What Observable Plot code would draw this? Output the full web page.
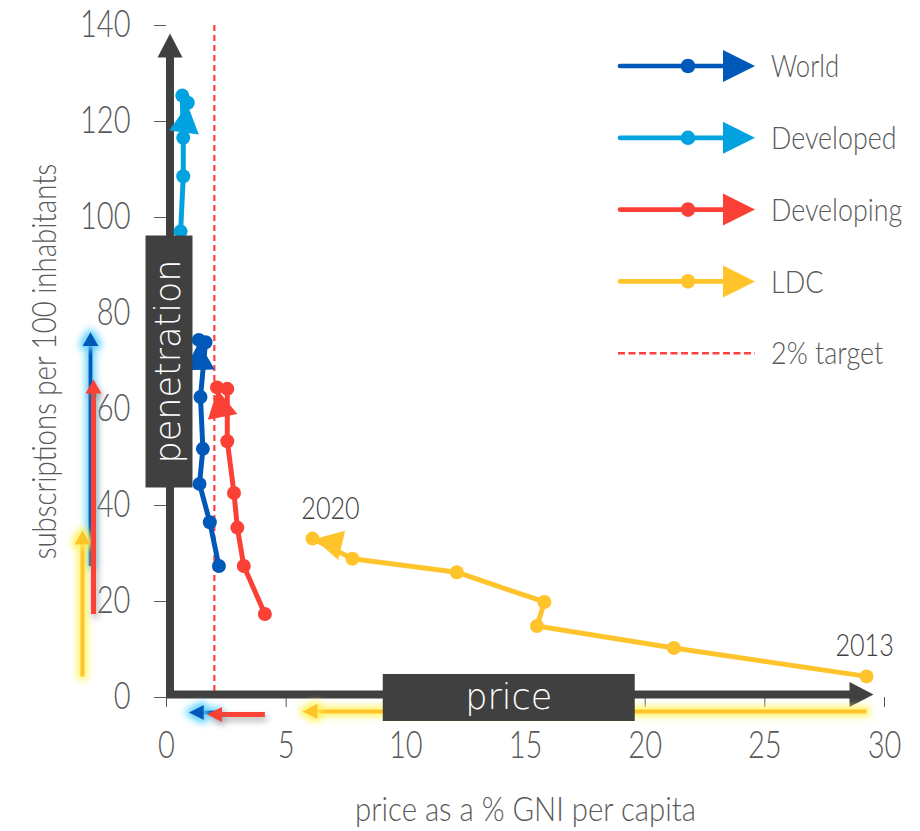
<!DOCTYPE html>
<html>
<head>
<meta charset="utf-8">
<script src="https://cdn.jsdelivr.net/npm/d3@7"></script>
<script src="https://cdn.jsdelivr.net/npm/@observablehq/plot@0.6"></script>
<style>
  body { margin: 0; background: #fff; }
  #wrap { position: relative; width: 920px; height: 831px; overflow: hidden; }
  #wrap > svg { position: absolute; left: 0; top: 0; }
</style>
</head>
<body>
<div id="wrap"></div>
<script>
// ---------------- data ----------------
const years = [2013, 2014, 2015, 2016, 2017, 2019, 2020];
const worldPrice = [2.19, 1.81, 1.38, 1.52, 1.42, 1.63, 1.35];
const worldPen = [27.4, 36.5, 44.5, 51.8, 62.6, 74.0, 74.5];
const developedPrice = [0.50, 0.55, 0.59, 0.70, 0.70, 0.66, 0.89];
const developedPen = [83.0, 90.0, 97.1, 108.6, 116.6, 125.4, 123.9];
const developingPrice = [4.11, 3.23, 2.96, 2.82, 2.54, 2.54, 2.11];
const developingPen = [17.4, 27.4, 35.4, 42.6, 53.4, 64.3, 64.6];
const ldcPrice = [29.25, 21.2, 15.48, 15.79, 12.13, 7.77, 6.10];
const ldcPen = [4.4, 10.3, 14.9, 19.9, 26.1, 28.9, 33.1];
const seriesNames = ["World", "Developed", "Developing", "LDC"];
const targetName = "2% target";
const targetPrice = 2;
const xTicks = [0, 5, 10, 15, 20, 25, 30];
const yTicks = [0, 20, 40, 60, 80, 100, 120, 140];
const xTitle = "price as a % GNI per capita";
const yTitle = "subscriptions per 100 inhabitants";
const boxLabels = ["penetration", "price"];

// ---------------- styles / layout ----------------
const colors = {World: "#0058b9", Developed: "#00a2e0", Developing: "#fb4136", LDC: "#ffc42c"};
const dark = "#404040", grey = "#595959", targetColor = "#ff4040";
const narrow = "'Liberation Sans', Arial, sans-serif"; // used for measuring, then condensed
const lightFace = "Lato, 'Open Sans', 'Liberation Sans', sans-serif";
const condenseFactor = 0.82;
const geo = "'DejaVu Sans', sans-serif";
const W = 920, H = 831;
const M = {left: 166, right: 36, top: 25, bottom: 134};
const xDomain = [0, 30], yDomain = [0, 140];
const kx = (W - M.left - M.right) / (xDomain[1] - xDomain[0]);
const ky = (H - M.top - M.bottom) / (yDomain[1] - yDomain[0]);

const seriesPrice = [worldPrice, developedPrice, developingPrice, ldcPrice];
const seriesPen = [worldPen, developedPen, developingPen, ldcPen];
const rows = seriesNames.map((name, s) =>
  years.map((year, i) => ({series: name, year, price: seriesPrice[s][i], pen: seriesPen[s][i]})));

// custom symbols
function headSymbol(len, wid, ext) { // tip pointing up, tip placed ext px beyond anchor
  return {draw(ctx) { ctx.moveTo(0, -ext); ctx.lineTo(wid / 2, len - ext); ctx.lineTo(-wid / 2, len - ext); ctx.closePath(); }};
}
function boxSymbol(w, h) { return {draw(ctx) { ctx.rect(-w / 2, -h / 2, w, h); }}; }
function screenAngle(a, b) {
  const dx = (b.price - a.price) * kx, dy = -(b.pen - a.pen) * ky;
  return Math.atan2(dx, -dy) * 180 / Math.PI;
}

const marks = [];
// target line
marks.push(Plot.ruleX([targetPrice], {stroke: targetColor, strokeWidth: 2.2, strokeDasharray: "6,4"}));

// thick axis arrows
marks.push(Plot.arrow([0], {x1: 0, y1: 0, x2: 0, y2: yDomain[1], stroke: dark, strokeWidth: 8, headLength: 0, insetEnd: 26, strokeLinecap: "butt", dx: 3.5}));
marks.push(Plot.dot([0], {x: 0, y: yDomain[1], symbol: headSymbol(24, 25, -8), r: 4, fill: dark, stroke: "none", dx: 3.5}));
marks.push(Plot.arrow([0], {x1: 0, y1: 0, x2: xDomain[1], y2: 0, stroke: dark, strokeWidth: 8, headLength: 0, insetEnd: 29, strokeLinecap: "butt", dy: -3}));
marks.push(Plot.dot([0], {x: xDomain[1], y: 0, symbol: headSymbol(24, 25, -11), r: 4, fill: dark, stroke: "none", rotate: 90, dy: -3}));

// series
const drawOrder = ["LDC", "Developing", "World", "Developed"];
for (const name of drawOrder) {
  const s = seriesNames.indexOf(name);
  const data = rows[s];
  const n = data.length;
  const last = data[n - 1];
  const head = [{...last, rot: screenAngle(data[n - 3], last)}];
  marks.push(Plot.line(data, {x: "price", y: "pen", stroke: colors[name], strokeWidth: 5}));
  marks.push(Plot.dot(data, {x: "price", y: "pen", r: 7, fill: colors[name], stroke: "none"}));
  marks.push(Plot.dot(head, {x: "price", y: "pen", rotate: "rot", symbol: headSymbol(28, 30, -2), r: 4, fill: colors[name], stroke: "none"}));
}

// projection arrows (left: penetration range, bottom: price range)
const proj = [
  {name: "World", left: -76, bottom: 15, glow: "glowBlue", w: 4},
  {name: "LDC", left: -84, bottom: 14, glow: "glowYellow", w: 4},
  {name: "Developing", left: -73, bottom: 17, glow: "shadowRed", w: 5}
];
for (const p of proj) {
  const data = rows[seriesNames.indexOf(p.name)];
  const d = [{first: data[0], last: data[data.length - 1]}];
  const c = colors[p.name];
  marks.push(Plot.arrow(d, {x1: 0, x2: 0, y1: d => d.first.pen, y2: d => d.last.pen, dx: p.left, stroke: c, strokeWidth: p.w, headLength: 0, insetEnd: 2, strokeLinecap: "butt", ariaDescription: p.glow}));
  marks.push(Plot.dot(d, {x: 0, y: d => d.last.pen, dx: p.left, symbol: headSymbol(14, 16, 8), r: 3, fill: c, stroke: "none", ariaDescription: p.glow}));
  marks.push(Plot.arrow(d, {y1: 0, y2: 0, x1: d => d.first.price, x2: d => d.last.price, dy: p.bottom, stroke: c, strokeWidth: p.w, headLength: 0, insetEnd: 2, strokeLinecap: "butt", ariaDescription: p.glow}));
  marks.push(Plot.dot(d, {y: 0, x: d => d.last.price, dy: p.bottom, rotate: -90, symbol: headSymbol(15, 15, 10), r: 3, fill: c, stroke: "none", ariaDescription: p.glow}));
}

// annotation boxes
const annotations = [
  {label: boxLabels[0], x: 0, y: 70, rotate: -90, dx: 2.5},
  {label: boxLabels[1], x: 14.3, y: 0, rotate: 0, dx: 0}
];
for (const a of annotations) {
  marks.push(Plot.dot([a], {x: "x", y: "y", dx: a.dx, rotate: a.rotate, symbol: boxSymbol(252, 47), r: 4, fill: dark, stroke: "none"}));
  marks.push(Plot.text([a], {x: "x", y: "y", dx: a.dx, rotate: a.rotate, text: "label", fill: "white", fontSize: 35, fontFamily: geo, fontWeight: 200, lineAnchor: "middle", ariaDescription: "box-label"}));
}

// year labels for LDC
const ldcRows = rows[seriesNames.indexOf("LDC")];
marks.push(Plot.text([ldcRows[ldcRows.length - 1]], {x: "price", y: "pen", text: d => String(d.year), dx: 18, dy: -30, fontSize: 32, fill: dark, fontFamily: narrow}));
marks.push(Plot.text([ldcRows[0]], {x: "price", y: "pen", text: d => String(d.year), dx: -2, dy: -31, fontSize: 32, fill: dark, fontFamily: narrow}));

// axis titles
marks.push(Plot.text([xTitle], {text: d => d, frameAnchor: "bottom", dy: 113, fontSize: 34, fill: grey, fontFamily: narrow, lineAnchor: "middle", textAnchor: "middle"}));
marks.push(Plot.text([yTitle], {text: d => d, frameAnchor: "left", dx: -121, rotate: -90, fontSize: 33, fill: grey, fontFamily: narrow, lineAnchor: "middle", textAnchor: "middle"}));

const chart = Plot.plot({
  width: W, height: H,
  marginLeft: M.left, marginRight: M.right, marginTop: M.top, marginBottom: M.bottom,
  style: {fontFamily: narrow, fontSize: "37px", color: grey, background: "white", overflow: "visible"},
  x: {domain: xDomain, ticks: xTicks, tickSize: 10, tickPadding: 24, label: null},
  y: {domain: yDomain, ticks: yTicks, tickSize: 12, tickPadding: 24, label: null},
  marks
});
document.getElementById("wrap").appendChild(chart);

// glow filters
const svg = d3.select(chart);
const defs = svg.insert("defs", ":first-child");
function glow(id, color, opacity) {
  const f = defs.append("filter").attr("id", id).attr("filterUnits", "userSpaceOnUse")
    .attr("x", -100).attr("y", -100).attr("width", W + 200).attr("height", H + 200);
  f.append("feMorphology").attr("in", "SourceAlpha").attr("operator", "dilate").attr("radius", 3).attr("result", "dil");
  f.append("feGaussianBlur").attr("in", "dil").attr("stdDeviation", 3.5).attr("result", "blur");
  f.append("feFlood").attr("flood-color", color).attr("flood-opacity", opacity);
  f.append("feComposite").attr("in2", "blur").attr("operator", "in").attr("result", "glow");
  const m = f.append("feMerge");
  m.append("feMergeNode").attr("in", "glow");
  m.append("feMergeNode").attr("in", "SourceGraphic");
}
glow("glowBlue", "#62d2ff", 0.95);
glow("glowYellow", "#fff35a", 0.95);
{
  const f = defs.append("filter").attr("id", "shadowRed").attr("filterUnits", "userSpaceOnUse")
    .attr("x", -100).attr("y", -100).attr("width", W + 200).attr("height", H + 200);
  f.append("feGaussianBlur").attr("in", "SourceAlpha").attr("stdDeviation", 3).attr("result", "blur");
  f.append("feOffset").attr("in", "blur").attr("dx", 2).attr("dy", 4).attr("result", "off");
  f.append("feFlood").attr("flood-color", "#777").attr("flood-opacity", 0.6);
  f.append("feComposite").attr("in2", "off").attr("operator", "in").attr("result", "sh");
  const m = f.append("feMerge");
  m.append("feMergeNode").attr("in", "sh");
  m.append("feMergeNode").attr("in", "SourceGraphic");
}
for (const id of ["glowBlue", "glowYellow", "shadowRed"]) {
  svg.selectAll(`g[aria-description="${id}"], g[aria-label="${id}"]`).attr("filter", `url(#${id})`);
}

// legend overlay
const leg = d3.select("#wrap").append("svg").attr("width", W).attr("height", H);
const legendItems = seriesNames.map(n => ({name: n, color: colors[n], type: "series"}))
  .concat([{name: targetName, color: targetColor, type: "target"}]);
legendItems.forEach((it, i) => {
  const y = 66 + i * 71.8;
  const g = leg.append("g");
  if (it.type === "series") {
    g.append("line").attr("x1", 620).attr("x2", 728).attr("y1", y).attr("y2", y)
      .attr("stroke", it.color).attr("stroke-width", 4.7).attr("stroke-linecap", "round");
    g.append("circle").attr("cx", 688).attr("cy", y).attr("r", 7.3).attr("fill", it.color);
    g.append("path").attr("d", `M723,${y - 16}L755,${y}L723,${y + 16}Z`).attr("fill", it.color);
  } else {
    g.append("line").attr("x1", 618).attr("x2", 755).attr("y1", y).attr("y2", y)
      .attr("stroke", it.color).attr("stroke-width", 2.6).attr("stroke-dasharray", "7,3.5");
  }
  g.append("text").attr("x", 771).attr("y", y).attr("dy", "0.35em")
    .attr("font-family", narrow).attr("font-size", 32).attr("fill", grey).text(it.name);
});

// measure with Arial metrics, then switch to a light face squeezed to narrow widths
function condense(root) {
  root.selectAll("text").each(function() {
    if (this.closest('g[aria-description="box-label"]')) return;
    const len = this.getComputedTextLength();
    if (len > 0) {
      this.style.fontFamily = lightFace;
      this.style.fontWeight = "300";
      this.setAttribute("textLength", (len * condenseFactor).toFixed(2));
      this.setAttribute("lengthAdjust", "spacingAndGlyphs");
    }
  });
}
condense(svg);
condense(leg);
</script>
</body>
</html>
